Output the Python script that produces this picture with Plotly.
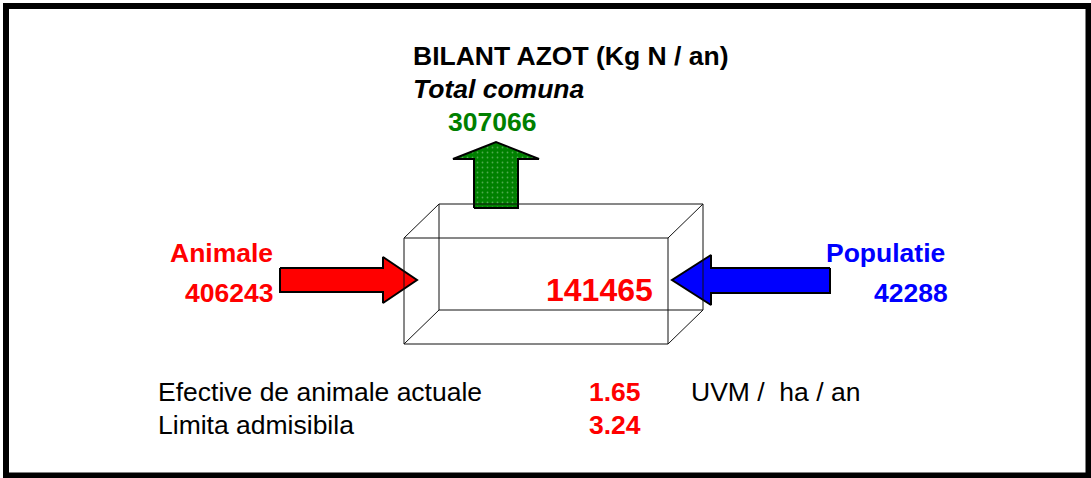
import plotly.graph_objects as go

# ---- data ----
title_lines = ["BILANT AZOT (Kg N / an)", "Total comuna"]
flow_labels = ["Animale", "Populatie"]
flow_values = [406243, 42288]
output_value = [307066]
balance_value = [141465]
stat_labels = ["Efective de animale actuale", "Limita admisibila"]
stat_values = [1.65, 3.24]
stat_unit = "UVM /  ha / an"

W, H = 1091, 478
FONT = "Liberation Sans, Arial, sans-serif"
RED, BLUE, GREEN = "#FF0000", "#0000FF", "#008000"
FS = 26.5

fig = go.Figure()

# ---- box (wireframe) ----
front = (404, 238, 668, 344)
dx, dy = 35, -34
fx0, fy0, fx1, fy1 = front
bx0, by0, bx1, by1 = fx0 + dx, fy0 + dy, fx1 + dx, fy1 + dy
box_line = dict(color="#111111", width=1)
for r in [(fx0, fy0, fx1, fy1), (bx0, by0, bx1, by1)]:
    fig.add_shape(type="rect", x0=r[0], y0=r[1], x1=r[2], y1=r[3],
                  line=box_line, layer="above")
for (x, y) in [(fx0, fy0), (fx1, fy0), (fx0, fy1), (fx1, fy1)]:
    fig.add_shape(type="line", x0=x, y0=y, x1=x + dx, y1=y + dy,
                  line=box_line, layer="above")

# ---- arrows ----
def arrow_poly(pts):
    xs = [p[0] for p in pts] + [pts[0][0]]
    ys = [p[1] for p in pts] + [pts[0][1]]
    return xs, ys

red_pts = [(280, 268), (383, 268), (383, 257), (417, 280), (383, 303), (383, 292), (280, 292)]
blue_pts = [(830, 268), (711, 268), (711, 255), (672, 280), (711, 305), (711, 293), (830, 293)]
green_pts = [(474, 208), (474, 159), (453, 159), (496, 142), (539, 159), (518, 159), (518, 208)]

xs, ys = arrow_poly(red_pts)
fig.add_trace(go.Scatter(x=xs, y=ys, mode="lines", fill="toself", fillcolor=RED,
                         line=dict(color="black", width=2), hoverinfo="skip", showlegend=False))
xs, ys = arrow_poly(blue_pts)
fig.add_trace(go.Scatter(x=xs, y=ys, mode="lines", fill="toself", fillcolor=BLUE,
                         line=dict(color="black", width=2), hoverinfo="skip", showlegend=False))
xs, ys = arrow_poly(green_pts)
fig.add_trace(go.Scatter(x=xs, y=ys, mode="lines", fill="toself", fillcolor=GREEN,
                         fillpattern=dict(shape=".", bgcolor=GREEN, fgcolor="#9fd49f",
                                          size=5, solidity=0.1),
                         line=dict(color="black", width=2), hoverinfo="skip", showlegend=False))

# ---- outer border ----
fig.add_shape(type="rect", x0=6, y0=6, x1=1088.5, y1=475.5,
              line=dict(color="black", width=6), layer="above")

# ---- texts ----
def txt(x, y, s, color="black", size=FS, bold=False, italic=False, anchor="left"):
    t = s
    if bold:
        t = "<b>" + t + "</b>"
    if italic:
        t = "<i>" + t + "</i>"
    fig.add_annotation(x=x, y=y, text=t, showarrow=False, xanchor=anchor, yanchor="middle",
                       font=dict(family=FONT, size=size, color=color))

txt(411, 55.5, title_lines[0], bold=True)
txt(411, 89, title_lines[1], bold=True, italic=True)
txt(446, 122, f"{output_value[0]}", color=GREEN, bold=True)

txt(275, 253, flow_labels[0], color=RED, bold=True, anchor="right")
txt(275, 293, f"{flow_values[0]}", color=RED, bold=True, anchor="right")
txt(824, 253, flow_labels[1], color=BLUE, bold=True)
txt(950, 293, f"{flow_values[1]}", color=BLUE, bold=True, anchor="right")

txt(655, 290, f"{balance_value[0]}", color=RED, size=32, bold=True, anchor="right")

txt(156, 392, stat_labels[0])
txt(156, 425, stat_labels[1])
txt(587, 392, f"{stat_values[0]:.2f}", color=RED, bold=True)
txt(587, 425, f"{stat_values[1]:.2f}", color=RED, bold=True)
txt(689, 392, stat_unit)

fig.update_xaxes(range=[0, W], visible=False, fixedrange=True)
fig.update_yaxes(range=[H, 0], visible=False, fixedrange=True)
fig.update_layout(width=W, height=H, margin=dict(l=0, r=0, t=0, b=0),
                  paper_bgcolor="white", plot_bgcolor="white", showlegend=False)

fig.write_html("out.html", config={"displayModeBar": False, "staticPlot": True},
               post_script="document.body.style.margin='0';document.body.style.overflow='hidden';")
